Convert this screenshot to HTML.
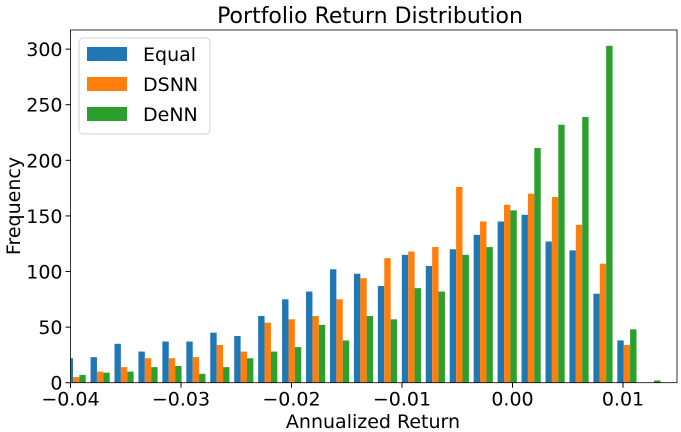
<!DOCTYPE html>
<html><head><meta charset="utf-8"><style>
body{margin:0;background:#fff;}
svg{display:block;font-family:"DejaVu Sans","Liberation Sans",sans-serif;}
</style></head><body>
<svg id="chart" width="681" height="432" viewBox="0 0 681 432">
<defs><clipPath id="pc"><rect x="70.5" y="30" width="606.5" height="352.7"/></clipPath></defs>
<text x="370" y="23" text-anchor="middle" font-size="22" fill="#000">Portfolio Return Distribution</text>
<text transform="translate(20,206) rotate(-90)" text-anchor="middle" font-size="19">Frequency</text>
<text x="373" y="428" text-anchor="middle" font-size="19">Annualized Return</text>
<g id="bars" clip-path="url(#pc)"></g>
<g id="axes"></g>
<g>
<rect x="79" y="38" width="131" height="96" rx="4" fill="#fff" stroke="#ccc" opacity="0.9"/>
<g><rect x="87" y="47" width="40" height="14" fill="#1f77b4"/><text x="143" y="61" font-size="19">Equal</text></g>
<g><rect x="87" y="77" width="40" height="14" fill="#ff7f0e"/><text x="143" y="91" font-size="19">DSNN</text></g>
<g><rect x="87" y="107" width="40" height="14" fill="#2ca02c"/><text x="143" y="121" font-size="19">DeNN</text></g>
</g>
</svg>
<script>
const equalCounts=[22,23,35,28,37,37,45,42,60,75,82,102,98,87,115,105,120,133,145,151,127,119,80,38,0];
const dsnnCounts=[5,10,14,22,22,23,34,28,54,57,60,75,94,112,118,122,176,145,160,170,167,142,107,34,0];
const dennCounts=[7,9,10,14,15,8,14,22,28,32,52,38,60,57,85,82,115,122,155,211,232,239,303,48,2];
const xTicks=[-0.04,-0.03,-0.02,-0.01,0.00,0.01];
const xTickLabels=["\u22120.04","\u22120.03","\u22120.02","\u22120.01","0.00","0.01"];
const yTicks=[0,50,100,150,200,250,300];
const binStart=-0.04057, binWidth=0.002167;
const L=70.5,R=677,T=30,B=382.7;
const xmin=-0.04,xmax=0.014887,ymax=317.2;
const xs=v=>L+(v-xmin)/(xmax-xmin)*(R-L);
const ys=v=>B-v/ymax*(B-T);
const NS="http://www.w3.org/2000/svg";
const bars=document.getElementById('bars'),axes=document.getElementById('axes');
const series=[[equalCounts,'#1f77b4','equal'],[dsnnCounts,'#ff7f0e','dsnn'],[dennCounts,'#2ca02c','denn']];
series.forEach((s,k)=>{
  s[0].forEach((v,i)=>{
    const x0=binStart+binWidth*(i+0.1+k*0.8/3);
    const r=document.createElementNS(NS,'rect');
    r.setAttribute('x',xs(x0));r.setAttribute('width',xs(x0+binWidth*0.8/3)-xs(x0));
    r.setAttribute('y',ys(v));r.setAttribute('height',ys(0)-ys(v));r.setAttribute('fill',s[1]);
    
    
    bars.appendChild(r);
  });
});
const fr=document.createElementNS(NS,'rect');
fr.setAttribute('x',L);fr.setAttribute('y',T);fr.setAttribute('width',R-L);fr.setAttribute('height',B-T);
fr.setAttribute('fill','none');fr.setAttribute('stroke','#000');fr.setAttribute('stroke-width','0.8');


axes.appendChild(fr);
xTicks.forEach((t,i)=>{
  const x=xs(t);
  const l=document.createElementNS(NS,'line');
  l.setAttribute('x1',x);l.setAttribute('x2',x);l.setAttribute('y1',B);l.setAttribute('y2',B+5);l.setAttribute('stroke','#000');
  
  
  axes.appendChild(l);
  const tx=document.createElementNS(NS,'text');
  tx.setAttribute('x',x);tx.setAttribute('y',B+23);tx.setAttribute('text-anchor','middle');tx.setAttribute('font-size','19');
  tx.textContent=xTickLabels[i];
  
  
  axes.appendChild(tx);
});
yTicks.forEach(t=>{
  const y=ys(t);
  const l=document.createElementNS(NS,'line');
  l.setAttribute('x1',L-5);l.setAttribute('x2',L);l.setAttribute('y1',y);l.setAttribute('y2',y);l.setAttribute('stroke','#000');
  
  
  axes.appendChild(l);
  const tx=document.createElementNS(NS,'text');
  tx.setAttribute('x',L-8);tx.setAttribute('y',y+7);tx.setAttribute('text-anchor','end');tx.setAttribute('font-size','19');
  tx.textContent=t;
  
  
  axes.appendChild(tx);
});
</script>
</body></html>
